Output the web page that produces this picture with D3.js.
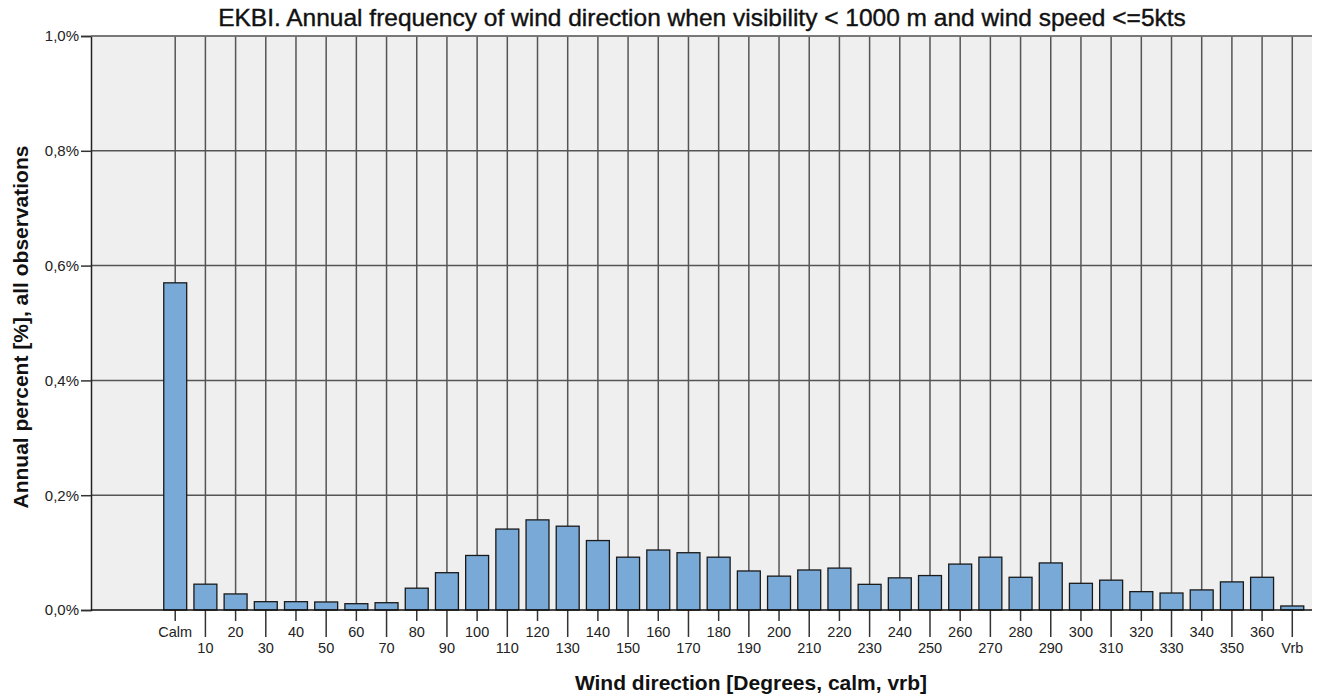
<!DOCTYPE html>
<html>
<head>
<meta charset="utf-8">
<script src="https://cdn.jsdelivr.net/npm/d3@7"></script>
<style>
  body { margin: 0; background: #fff; }
  text { font-family: "Liberation Sans", Arial, sans-serif; }
</style>
</head>
<body>
<div id="chart"></div>
<script>
(function() {

    const directions = ["Calm", "10", "20", "30", "40", "50", "60", "70", "80", "90",
        "100", "110", "120", "130", "140", "150", "160", "170", "180", "190",
        "200", "210", "220", "230", "240", "250", "260", "270", "280", "290",
        "300", "310", "320", "330", "340", "350", "360", "Vrb"];

    const percents = [0.570, 0.045, 0.028, 0.0145, 0.0145, 0.014, 0.011, 0.0127, 0.038, 0.065,
        0.095, 0.141, 0.157, 0.146, 0.121, 0.092, 0.1045, 0.0998, 0.092, 0.068,
        0.059, 0.0697, 0.073, 0.0447, 0.056, 0.060, 0.080, 0.092, 0.057, 0.082,
        0.0465, 0.052, 0.032, 0.0296, 0.035, 0.049, 0.057, 0.007];

    const yTicks = [0, 0.2, 0.4, 0.6, 0.8, 1.0];

    const data = directions.map((d, i) => ({dir: d, pct: percents[i]}));

    const width = 1327;
    const height = 700;
    const plot = {left: 91, right: 1312, top: 36, bottom: 610};

    const svg = d3.select("#chart").append("svg")
        .attr("width", width)
        .attr("height", height);

    // SPSS leaves an empty gap left of Calm
    const x = d3.scaleBand()
        .domain(directions)
        .range([156.5, 1311])
        .padding(0.24);

    const y = d3.scaleLinear()
        .domain([0, 1.0])
        .range([plot.bottom, plot.top]);

    const cx = d => x(d) + x.bandwidth() / 2;

    // background
    svg.append("rect")
        .attr("x", plot.left)
        .attr("y", plot.top)
        .attr("width", plot.right - plot.left)
        .attr("height", plot.bottom - plot.top)
        .attr("fill", "#efefef");

    // horizontal grid
    svg.append("g")
        .selectAll("line")
        .data(yTicks.filter(t => t > 0))
        .join("line")
        .attr("x1", plot.left)
        .attr("x2", plot.right)
        .attr("y1", d => y(d))
        .attr("y2", d => y(d))
        .attr("stroke", "#555")
        .attr("stroke-width", 1.5);

    // vertical grid at every category
    svg.append("g")
        .selectAll("line")
        .data(directions)
        .join("line")
        .attr("x1", d => cx(d))
        .attr("x2", d => cx(d))
        .attr("y1", plot.top)
        .attr("y2", plot.bottom)
        .attr("stroke", "#555")
        .attr("stroke-width", 1.5);

    // bars
    svg.append("g")
        .selectAll("rect")
        .data(data)
        .join("rect")
        .attr("x", d => x(d.dir))
        .attr("y", d => y(d.pct))
        .attr("width", x.bandwidth())
        .attr("height", d => y(0) - y(d.pct))
        .attr("fill", "#79a9d7")
        .attr("stroke", "#1a1a1a")
        .attr("stroke-width", 1.3);

    // y axis
    const yAxis = svg.append("g")
        .attr("transform", `translate(${plot.left},0)`)
        .call(d3.axisLeft(y).tickValues(yTicks).tickSize(10).tickPadding(2)
            .tickFormat(d => d3.format(".1f")(d).replace(".", ",") + "%"));
    yAxis.select(".domain").attr("stroke", "#222").attr("stroke-width", 1.5);
    yAxis.selectAll(".tick line").attr("stroke", "#333").attr("stroke-width", 1.5);
    yAxis.selectAll(".tick text")
        .attr("font-size", "15px")
        .attr("fill", "#222")
        .attr("font-family", "Liberation Sans, Arial, sans-serif");

    // x axis, labels staggered on two rows
    const xAxis = svg.append("g")
        .attr("transform", `translate(0,${plot.bottom})`)
        .call(d3.axisBottom(x).tickSize(0).tickFormat(""));
    xAxis.select(".domain").remove();
    xAxis.selectAll(".tick line")
        .attr("y2", (d, i) => i % 2 === 0 ? 11 : 27)
        .attr("stroke", "#333")
        .attr("stroke-width", 1.5);
    xAxis.selectAll(".tick").append("text")
        .attr("y", (d, i) => i % 2 === 0 ? 27 : 43)
        .attr("text-anchor", "middle")
        .attr("font-size", "14.5px")
        .attr("fill", "#222")
        .attr("font-family", "Liberation Sans, Arial, sans-serif")
        .text(d => d);

    svg.append("line")
        .attr("x1", plot.left)
        .attr("x2", plot.right)
        .attr("y1", plot.bottom)
        .attr("y2", plot.bottom)
        .attr("stroke", "#111")
        .attr("stroke-width", 1.5);

    svg.append("line")
        .attr("x1", plot.left)
        .attr("x2", plot.right)
        .attr("y1", plot.top)
        .attr("y2", plot.top)
        .attr("stroke", "#777")
        .attr("stroke-width", 1.5);

    // titles
    svg.append("text")
        .attr("x", 702)
        .attr("y", 26)
        .attr("text-anchor", "middle")
        .attr("font-size", "24.5px")
        .attr("fill", "#111")
        .attr("stroke", "#111")
        .attr("stroke-width", 0.4)
        .text("EKBI. Annual frequency of wind direction when visibility < 1000 m and wind speed <=5kts");

    svg.append("text")
        .attr("x", 751)
        .attr("y", 690)
        .attr("text-anchor", "middle")
        .attr("font-size", "21px")
        .attr("font-weight", "bold")
        .attr("fill", "#111")
        .text("Wind direction [Degrees, calm, vrb]");

    svg.append("text")
        .attr("transform", "translate(28,327) rotate(-90)")
        .attr("text-anchor", "middle")
        .attr("font-size", "21px")
        .attr("font-weight", "bold")
        .attr("fill", "#111")
        .text("Annual percent [%], all observations");

})();
</script>
</body>
</html>
